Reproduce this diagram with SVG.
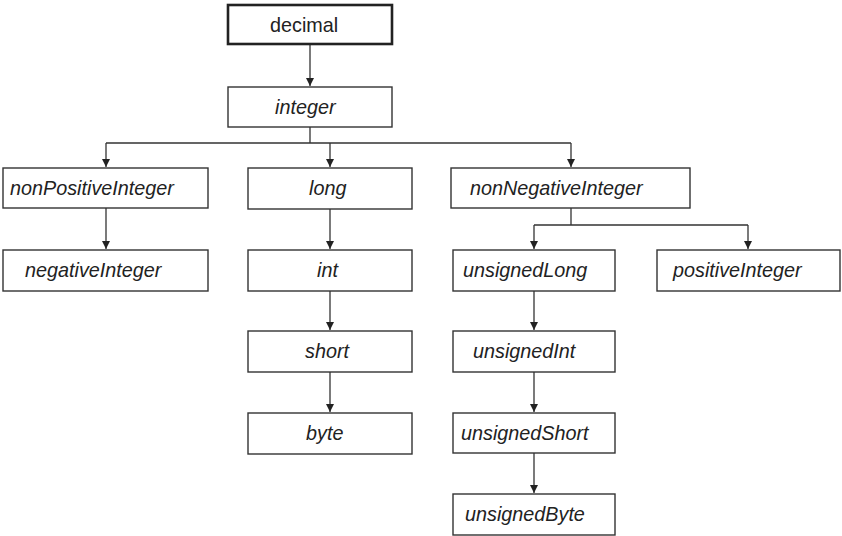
<svg xmlns="http://www.w3.org/2000/svg" width="842" height="536" viewBox="0 0 842 536">
<defs>
<marker id="arr" markerWidth="9" markerHeight="9" refX="8" refY="4" orient="auto" markerUnits="userSpaceOnUse">
<path d="M0,0 L8,4 L0,8 z" fill="#222"/>
</marker>
<style>
rect.n{fill:#fff;stroke:#333;stroke-width:1.4}
rect.root{stroke-width:2.6;stroke:#222}
text{font-family:"Liberation Sans",Arial,sans-serif;font-size:19.8px;fill:#222;font-style:italic}
text.up{font-style:normal}
.c path{fill:none;stroke:#333;stroke-width:1.3}
.c path.a{marker-end:url(#arr)}
</style>
</defs>
<rect width="842" height="536" fill="#fff"/>
<g class="c" id="connectors">
<path class="a" d="M310,44 V86"/>
<path d="M310,127 V143 M106,143 H571"/>
<path class="a" d="M106,143 V167"/>
<path class="a" d="M330,143 V167"/>
<path class="a" d="M571,143 V167"/>
<path class="a" d="M106,208 V249"/>
<path class="a" d="M330,209 V249"/>
<path class="a" d="M330,291 V330"/>
<path class="a" d="M330,372 V412"/>
<path d="M571,208 V225 M534,225 H748"/>
<path class="a" d="M534,225 V249"/>
<path class="a" d="M748,225 V249"/>
<path class="a" d="M534,291 V330"/>
<path class="a" d="M534,372 V412"/>
<path class="a" d="M534,453 V493"/>
</g>
<g id="decimal"><rect class="n root" x="228" y="5" width="164" height="39"/><text class="up" x="270" y="31.5">decimal</text></g>
<g id="integer"><rect class="n" x="228" y="87" width="164" height="40"/><text x="275" y="114">integer</text></g>
<g id="nonPositiveInteger"><rect class="n" x="3" y="168" width="205" height="40"/><text x="10" y="195">nonPositiveInteger</text></g>
<g id="negativeInteger"><rect class="n" x="3" y="250" width="205" height="41"/><text x="25" y="277">negativeInteger</text></g>
<g id="long"><rect class="n" x="248" y="168" width="164" height="41"/><text x="309" y="195">long</text></g>
<g id="int"><rect class="n" x="248" y="250" width="164" height="41"/><text x="317" y="277">int</text></g>
<g id="short"><rect class="n" x="248" y="331" width="164" height="41"/><text x="305" y="358">short</text></g>
<g id="byte"><rect class="n" x="248" y="413" width="164" height="41"/><text x="306" y="440">byte</text></g>
<g id="nonNegativeInteger"><rect class="n" x="451" y="168" width="239" height="40"/><text x="470" y="195">nonNegativeInteger</text></g>
<g id="unsignedLong"><rect class="n" x="453" y="250" width="162" height="41"/><text x="463" y="277">unsignedLong</text></g>
<g id="positiveInteger"><rect class="n" x="657" y="250" width="183" height="41"/><text x="673" y="277">positiveInteger</text></g>
<g id="unsignedInt"><rect class="n" x="453" y="331" width="162" height="41"/><text x="473" y="358">unsignedInt</text></g>
<g id="unsignedShort"><rect class="n" x="453" y="413" width="162" height="40"/><text x="461" y="440">unsignedShort</text></g>
<g id="unsignedByte"><rect class="n" x="453" y="494" width="162" height="41"/><text x="465" y="521">unsignedByte</text></g>
</svg>
